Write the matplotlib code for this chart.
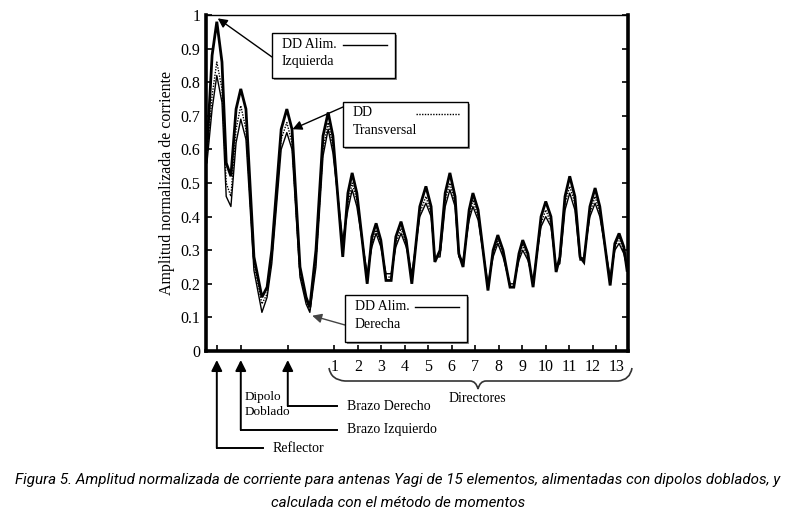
import matplotlib
matplotlib.use('Agg')
from matplotlib import pyplot as plt
from matplotlib import transforms
from matplotlib.patches import Rectangle, PathPatch
from matplotlib.path import Path
import numpy as np

# posicion a lo largo de los elementos (unidades arbitrarias, 5 por director)
pos = [0.2, 1.3, 2.3, 3.4, 4.3, 5.3, 6.4, 7.4, 8.5, 10.2, 11.9, 13.0, 14.0, 16.0,
       17.2, 18.3, 20.0, 21.3, 22.1, 23.4, 24.9, 26.0, 27.0, 29.1, 30.2, 31.1,
       32.1, 34.3, 35.3, 36.2, 37.2, 38.3, 39.4, 40.4, 41.5, 42.6, 43.8, 45.5,
       46.8, 47.9, 48.7, 49.8, 50.9, 51.9, 53.0, 53.8, 54.7, 56.0, 56.8, 57.9,
       60.0, 61.1, 62.1, 63.2, 64.7, 65.5, 66.6, 67.4, 68.5, 69.6, 71.3, 72.3,
       73.4, 74.5, 75.3, 76.4, 77.4, 78.5, 79.6, 80.4, 81.7, 82.8, 83.8, 86.0,
       87.0, 87.9, 88.9, 89.6]

# DD alimentado en el brazo izquierdo
izq = [0.60, 0.88, 0.98, 0.86, 0.56, 0.52, 0.72, 0.78, 0.72, 0.28, 0.16, 0.19,
       0.30, 0.66, 0.72, 0.66, 0.25, 0.16, 0.13, 0.30, 0.64, 0.71, 0.64, 0.28,
       0.47, 0.53, 0.47, 0.20, 0.34, 0.38, 0.33, 0.21, 0.21, 0.34, 0.385, 0.33,
       0.20, 0.43, 0.49, 0.43, 0.265, 0.30, 0.47, 0.53, 0.46, 0.29, 0.25, 0.42,
       0.47, 0.42, 0.18, 0.30, 0.345, 0.30, 0.19, 0.19, 0.29, 0.33, 0.29, 0.19,
       0.40, 0.445, 0.40, 0.235, 0.28, 0.46, 0.52, 0.46, 0.28, 0.265, 0.43,
       0.485, 0.43, 0.195, 0.32, 0.35, 0.31, 0.24]

# DD transversal
trans_dd = [0.58, 0.76, 0.86, 0.78, 0.50, 0.46, 0.66, 0.73, 0.66, 0.26, 0.14,
            0.17, 0.28, 0.63, 0.68, 0.62, 0.23, 0.15, 0.12, 0.27, 0.60, 0.68,
            0.61, 0.31, 0.44, 0.50, 0.45, 0.22, 0.32, 0.36, 0.32, 0.22, 0.22,
            0.32, 0.365, 0.32, 0.22, 0.41, 0.46, 0.41, 0.27, 0.29, 0.45, 0.50,
            0.44, 0.29, 0.26, 0.40, 0.45, 0.40, 0.19, 0.29, 0.33, 0.29, 0.19,
            0.19, 0.28, 0.315, 0.28, 0.20, 0.38, 0.42, 0.38, 0.24, 0.27, 0.44,
            0.49, 0.44, 0.28, 0.27, 0.41, 0.46, 0.41, 0.21, 0.31, 0.335, 0.30,
            0.25]

# DD alimentado en el brazo derecho
der = [0.56, 0.72, 0.82, 0.74, 0.46, 0.43, 0.62, 0.69, 0.63, 0.24, 0.115, 0.16,
       0.26, 0.60, 0.65, 0.60, 0.22, 0.14, 0.115, 0.25, 0.58, 0.66, 0.59, 0.33,
       0.42, 0.48, 0.43, 0.23, 0.31, 0.35, 0.31, 0.23, 0.23, 0.31, 0.35, 0.31,
       0.23, 0.40, 0.44, 0.40, 0.28, 0.28, 0.43, 0.48, 0.43, 0.28, 0.27, 0.39,
       0.43, 0.39, 0.20, 0.28, 0.32, 0.28, 0.20, 0.20, 0.27, 0.30, 0.27, 0.21,
       0.37, 0.40, 0.37, 0.25, 0.26, 0.42, 0.47, 0.42, 0.27, 0.28, 0.40, 0.44,
       0.40, 0.22, 0.30, 0.32, 0.29, 0.25]

pos_reflector = 2.3
pos_brazo_izq = 7.4
pos_brazo_der = 17.4
pos_directores = [27.3 + 5.0 * k for k in range(13)]
etiquetas_dir = [str(k + 1) for k in range(13)]

W, H = 796, 512


def fx(px):
    return px / W


def fy(py):
    return 1 - py / H


serif = 'Liberation Serif'

fig = plt.figure(figsize=(W / 100, H / 100), dpi=100)
ax = fig.add_axes([fx(206), fy(351), fx(628) - fx(206), fy(15) - fy(351)])

ax.plot(pos, izq, color='k', lw=2.0, solid_joinstyle='miter')
ax.plot(pos, trans_dd, color='k', lw=1.0, ls=(0, (1, 1)))
ax.plot(pos, der, color='k', lw=1.0)

ax.set_xlim(0, 89.8)
ax.set_ylim(0, 1)
ax.set_yticks(np.arange(0, 1.01, 0.1))
ax.set_yticklabels(['0', '0.1', '0.2', '0.3', '0.4', '0.5', '0.6', '0.7', '0.8', '0.9', '1'],
                   family=serif, fontsize=11.5)
ax.set_xticks([pos_reflector, pos_brazo_izq, pos_brazo_der] + pos_directores)
ax.set_xticklabels(['', '', ''] + etiquetas_dir, family=serif, fontsize=11.5)
ax.tick_params(axis='both', direction='in', length=4, width=1.2, pad=6)
ax.tick_params(axis='y', right=True, pad=4)
for s in ['left', 'bottom', 'right']:
    ax.spines[s].set_linewidth(2.6)
ax.spines['top'].set_linewidth(1.0)
ax.set_ylabel('Amplitud normalizada de corriente', family=serif, fontsize=11.5, labelpad=4)


def caja(x0, y0, x1, y1, linea1, linea2, estilo):
    fig.patches.append(Rectangle((fx(x0 + 2), fy(y1 + 2)), fx(x1) - fx(x0), fy(y0) - fy(y1),
                                 transform=fig.transFigure, facecolor='#888888',
                                 edgecolor='none', zorder=5))
    fig.patches.append(Rectangle((fx(x0), fy(y1)), fx(x1) - fx(x0), fy(y0) - fy(y1),
                                 transform=fig.transFigure, facecolor='white',
                                 edgecolor='k', lw=1.0, zorder=6))
    fig.text(fx(x0 + 10), fy(y0 + 11), linea1, family=serif, fontsize=10,
             va='center', zorder=7)
    fig.text(fx(x0 + 10), fy(y0 + 29), linea2, family=serif, fontsize=10,
             va='center', zorder=7)
    fig.lines.append(plt.Line2D([fx(x1 - 52), fx(x1 - 8)], [fy(y0 + 12), fy(y0 + 12)],
                                transform=fig.transFigure, color='k', lw=1.0,
                                ls=estilo, zorder=7))


caja(272, 33, 395, 78, 'DD Alim.', 'Izquierda', '-')
caja(343, 102, 468, 147, 'DD', 'Transversal', (0, (1, 1)))
caja(345, 295, 467, 342, 'DD Alim.', 'Derecha', '-')

flecha = dict(arrowstyle='-|>', color='k', lw=1.0, mutation_scale=14, shrinkA=0, shrinkB=0)
ax.annotate('', xy=(2.5, 0.99), xytext=(fx(272), fy(57)), textcoords='figure fraction',
            arrowprops=flecha, zorder=8)
ax.annotate('', xy=(18.4, 0.66), xytext=(fx(343), fy(107)), textcoords='figure fraction',
            arrowprops=flecha, zorder=8)
ax.annotate('', xy=(22.6, 0.105), xytext=(fx(345), fy(325)), textcoords='figure fraction',
            arrowprops=dict(flecha, color='#444444'), zorder=8)

# flechas bajo el eje
mix = transforms.blended_transform_factory(ax.transData, fig.transFigure)
flecha_v = dict(arrowstyle='-|>', color='k', lw=1.4, mutation_scale=16, shrinkA=0, shrinkB=0)
for xp, ycola, xfin, texto in [(pos_reflector, 448, 12.1, 'Reflector'),
                               (pos_brazo_izq, 430, 27.9, 'Brazo Izquierdo'),
                               (pos_brazo_der, 406, 27.9, 'Brazo Derecho')]:
    ax.annotate('', xy=(xp, fy(360)), xytext=(xp, fy(ycola)), xycoords=mix,
                textcoords=mix, arrowprops=flecha_v, annotation_clip=False)
    ax.add_line(plt.Line2D([xp, xfin], [fy(ycola), fy(ycola)], transform=mix,
                           color='k', lw=1.4, clip_on=False))
    ax.text(xfin + 2.0, fy(ycola), texto, transform=mix, family=serif, fontsize=10,
            va='center')

fig.text(fx(245), fy(397), 'Dipolo', family=serif, fontsize=9.5, va='center')
fig.text(fx(245), fy(412), 'Doblado', family=serif, fontsize=9.5, va='center')
fig.text(fx(477), fy(399), 'Directores', family=serif, fontsize=10, va='center',
         ha='center')

# llave de los directores
vert = [(329, 368), (331, 380), (345, 381), (470, 381), (476, 381), (478, 389),
        (480, 381), (486, 381), (618, 381), (630, 380), (632, 368)]
codes = [Path.MOVETO, Path.CURVE3, Path.CURVE3, Path.LINETO, Path.CURVE3, Path.CURVE3,
         Path.CURVE3, Path.CURVE3, Path.LINETO, Path.CURVE3, Path.CURVE3]
llave = Path([(fx(a), fy(b)) for a, b in vert], codes)
fig.patches.append(PathPatch(llave, transform=fig.transFigure, facecolor='none',
                             edgecolor='#333333', lw=1.2))

cap = ['Roboto', 'DejaVu Sans']
fig.text(0.5, fy(480), 'Figura 5. Amplitud normalizada de corriente para antenas Yagi de 15 '
         'elementos, alimentadas con dipolos doblados, y', family=cap, style='italic',
         fontsize=10.9, ha='center', va='center')
fig.text(0.5, fy(503), 'calculada con el método de momentos', family=cap, style='italic',
         fontsize=10.9, ha='center', va='center')

fig.savefig('out.png', dpi=100)
